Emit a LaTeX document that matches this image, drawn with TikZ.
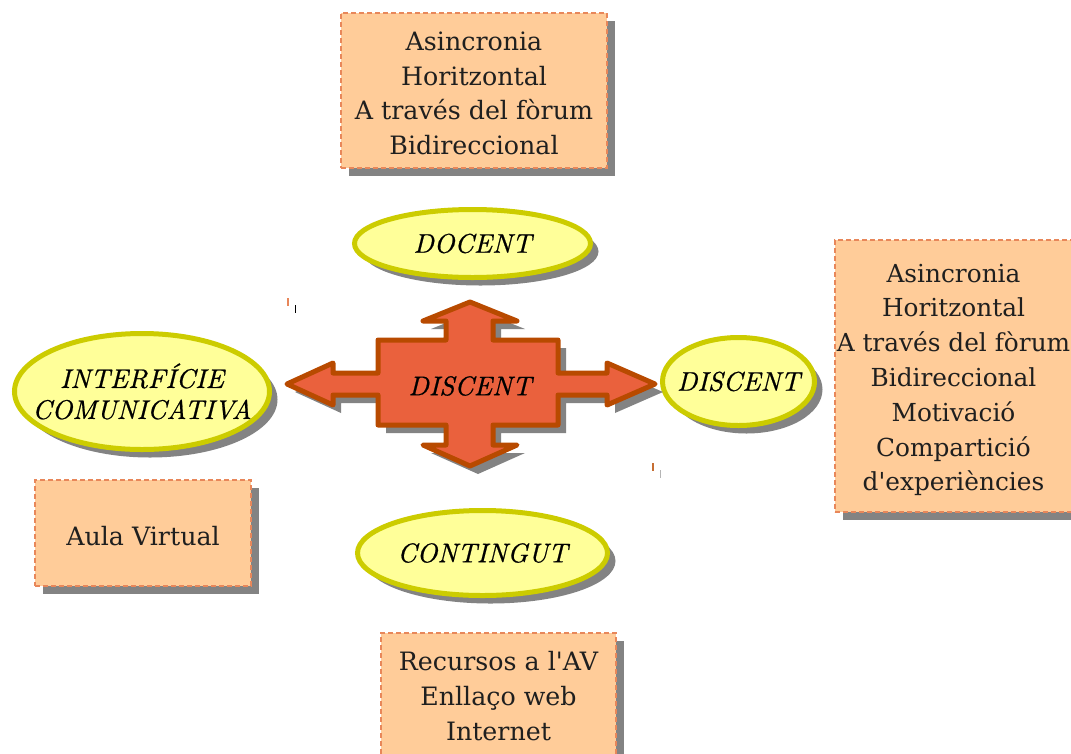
\documentclass[tikz,border=0pt]{standalone}
\usepackage{fontspec}
\newfontfamily\boxfont{DejaVu Serif}
\newfontfamily\bubblefont{lmroman10-italic}[Extension=.otf,FakeBold=0.7]
\usepackage{tikz}
\usetikzlibrary{positioning,shapes.geometric,shadows}
\definecolor{peach}{HTML}{FFCC99}
\definecolor{peachline}{HTML}{E8875A}
\definecolor{lemon}{HTML}{FFFF99}
\definecolor{olive}{HTML}{CCCC00}
\definecolor{brick}{HTML}{EA613D}
\definecolor{rust}{HTML}{B84A00}
\definecolor{shade}{HTML}{838383}

\begin{document}
\begin{tikzpicture}
  [x=1pt,y=-1pt,
   shade8/.style={drop shadow={shadow xshift=8pt,shadow yshift=-8pt,fill=shade,opacity=1}},
   box/.style={rectangle,draw=peachline,dash pattern=on 5pt off 3pt,line width=1.3pt,fill=peach,shade8},
   boxtext/.style={align=center,inner sep=0pt,text=black!88,font=\boxfont\fontsize{25.3}{34.6}\selectfont},
   bubble/.style={ellipse,draw=olive,line width=5pt,fill=lemon,shade8,inner sep=-20pt,
     align=center,font=\bubblefont\fontsize{27}{31}\selectfont}]
  \useasboundingbox (0,0) rectangle (1071,753);

  \node[box,minimum width=266pt,minimum height=155pt] (b1) at (474,90.5) {};
  \node[box,minimum width=240pt,minimum height=272pt] (b2) at (955,376) {};
  \node[box,minimum width=216pt,minimum height=106pt] (b3) at (143,533) {};
  \node[box,minimum width=235pt,minimum height=126pt] (b4) at (498.5,696) {};
  \node[boxtext] (t1) at ([yshift=-3pt]b1.center)
    {Asincronia\\Horitzontal\\A través del fòrum\\Bidireccional};
  \node[boxtext,font=\boxfont\fontsize{24.8}{34.8}\selectfont] (t2) at ([xshift=-1.5pt,yshift=-4pt]b2.center)
    {Asincronia\\Horitzontal\\A través del fòrum\\Bidireccional\\Motivació\\Compartició\\d'experiències};
  \node[boxtext] (t3) at ([yshift=-3pt]b3.center) {Aula Virtual};
  \node[boxtext] (t4) at (b4.center) {Recursos a l'AV\\Enllaço web\\Internet};

  \node[bubble,minimum width=236pt,minimum height=68pt] (e1) at (472.5,243.5) {DOCENT};
  \node[bubble,minimum width=152pt,minimum height=88pt] (e2) at (738.5,381.5) {DISCENT};
  \node[bubble,minimum width=255pt,minimum height=116pt] (e3) at (142,391.5)
    {INTERFÍCIE\\COMUNICATIVA};
  \node[bubble,minimum width=250pt,minimum height=85pt] (e4) at (482.5,553) {CONTINGUT};

  % central four-way arrow
  \filldraw[fill=brick,draw=rust,line width=5pt,line join=round,shade8]
    (287,384) -- (333,363) -- (333,373) -- (378,373) -- (378,340) -- (446,340)
    -- (446,321) -- (423,321) -- (470,302) -- (517,321) -- (493,321) -- (493,340)
    -- (558,340) -- (558,373) -- (607,373) -- (607,363) -- (655,384) -- (607,405)
    -- (607,395) -- (558,395) -- (558,425) -- (493,425) -- (493,445) -- (517,445)
    -- (470,466) -- (423,445) -- (446,445) -- (446,425) -- (378,425) -- (378,395)
    -- (333,395) -- (333,405) -- cycle;
  \node[font=\bubblefont\fontsize{27}{31}\selectfont] (c) at (470,386) {DISCENT};

  % stray ticks
  \draw[peachline,line width=1.5pt] (288,298) -- (288,306);
  \draw[shade,line width=1pt] (295,305) -- (295,313);
  \draw[rust!80,line width=1.5pt] (653,463) -- (653,471);
  \draw[shade!60,line width=1pt] (660,470) -- (660,478);
\end{tikzpicture}
\end{document}
